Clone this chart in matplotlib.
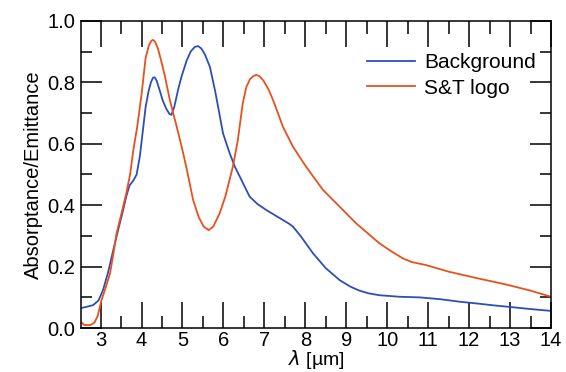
import matplotlib.pyplot as plt
from matplotlib.ticker import MultipleLocator

plt.rcParams['font.family'] = ['Liberation Sans', 'DejaVu Sans']

# Background spectrum
bg_x = [2.52, 2.74, 2.82, 2.95, 3.06, 3.18, 3.31, 3.43, 3.55, 3.63, 3.71, 3.8, 3.88, 3.96,
        4.03, 4.1, 4.17, 4.23, 4.28, 4.32, 4.37, 4.44, 4.52, 4.6, 4.68, 4.73, 4.8, 4.9,
        4.98, 5.1, 5.2, 5.3, 5.38, 5.46, 5.55, 5.67, 5.8, 5.99, 6.15, 6.28, 6.4, 6.52,
        6.64, 6.82, 7.05, 7.25, 7.45, 7.6, 7.7, 7.9, 8.19, 8.5, 8.84, 9.1, 9.32, 9.55,
        9.81, 10.3, 10.79, 11.3, 11.76, 12.2, 12.6, 13.06, 13.5, 14.0]
bg_y = [0.065, 0.072, 0.075, 0.09, 0.124, 0.18, 0.254, 0.32, 0.384, 0.43, 0.465, 0.48, 0.50, 0.56,
        0.64, 0.72, 0.77, 0.80, 0.815, 0.816, 0.805, 0.775, 0.74, 0.715, 0.697, 0.694, 0.72, 0.78,
        0.82, 0.87, 0.90, 0.915, 0.918, 0.91, 0.89, 0.85, 0.77, 0.634, 0.57, 0.525, 0.493, 0.46,
        0.428, 0.405, 0.384, 0.368, 0.352, 0.34, 0.33, 0.297, 0.243, 0.195, 0.156, 0.135, 0.122, 0.113,
        0.107, 0.102, 0.100, 0.094, 0.086, 0.080, 0.074, 0.068, 0.062, 0.056]

# S&T logo spectrum
logo_x = [2.52, 2.6, 2.75, 2.85, 2.93, 3.02, 3.12, 3.23, 3.31, 3.39, 3.51, 3.63, 3.72, 3.8,
          3.9, 4.0, 4.1, 4.18, 4.24, 4.28, 4.33, 4.4, 4.48, 4.57, 4.69, 4.85, 4.98, 5.1,
          5.26, 5.4, 5.52, 5.64, 5.75, 5.91, 6.05, 6.23, 6.35, 6.47, 6.56, 6.65, 6.73, 6.8,
          6.88, 6.98, 7.1, 7.21, 7.33, 7.45, 7.7, 8.02, 8.43, 8.84, 9.24, 9.81, 10.1,
          10.38, 10.6, 10.95, 11.52, 12.21, 12.9, 13.5, 14.0]
logo_y = [0.02, 0.01, 0.01, 0.018, 0.04, 0.09, 0.13, 0.178, 0.24, 0.308, 0.373, 0.44, 0.50, 0.58,
          0.66, 0.76, 0.88, 0.92, 0.935, 0.938, 0.932, 0.91, 0.87, 0.82, 0.743, 0.66, 0.59, 0.52,
          0.417, 0.36, 0.33, 0.319, 0.33, 0.374, 0.43, 0.525, 0.61, 0.73, 0.785, 0.81, 0.82, 0.824,
          0.82, 0.805, 0.777, 0.743, 0.70, 0.656, 0.59, 0.525, 0.45, 0.395, 0.341, 0.276, 0.25,
          0.227, 0.215, 0.205, 0.183, 0.162, 0.142, 0.122, 0.102]

fig = plt.figure(figsize=(5.66, 3.72), dpi=100)
ax = fig.add_axes([0.143, 0.118, 0.8305, 0.826])

ax.plot(bg_x, bg_y, color='#2d4fb4', lw=1.3, label='Background')
ax.plot(logo_x, logo_y, color='#e8501e', lw=1.3, label='S&T logo')

ax.set_xlim(2.52, 14)
ax.set_ylim(0, 1.0)
ax.xaxis.set_major_locator(MultipleLocator(1))
ax.xaxis.set_minor_locator(MultipleLocator(0.5))
ax.yaxis.set_major_locator(MultipleLocator(0.2))
ax.yaxis.set_minor_locator(MultipleLocator(0.1))
ax.yaxis.set_major_formatter(lambda v, p: f'{v:.1f}')

ax.tick_params(axis='x', which='major', direction='in', top=True, length=19, width=1.1,
               labelsize=14.5, pad=2)
ax.tick_params(axis='x', which='minor', direction='in', top=True, length=9, width=1.1)
ax.tick_params(axis='y', which='major', direction='in', right=True, length=15, width=1.1,
               labelsize=14.5, pad=4)
ax.tick_params(axis='y', which='minor', direction='in', right=True, length=8, width=1.1)
for s in ax.spines.values():
    s.set_linewidth(1.1)

ax.set_xlabel(r'$\lambda$ [µm]', fontsize=14, labelpad=-1)
ax.set_ylabel('Absorptance/Emittance', fontsize=14.5, labelpad=3)

ax.legend(loc='upper left', bbox_to_anchor=(0.609, 0.894), frameon=False, fontsize=15,
          handlelength=2.3, handletextpad=0.45, labelspacing=0.3, borderpad=0,
          borderaxespad=0)

fig.savefig('out.png', dpi=100)
